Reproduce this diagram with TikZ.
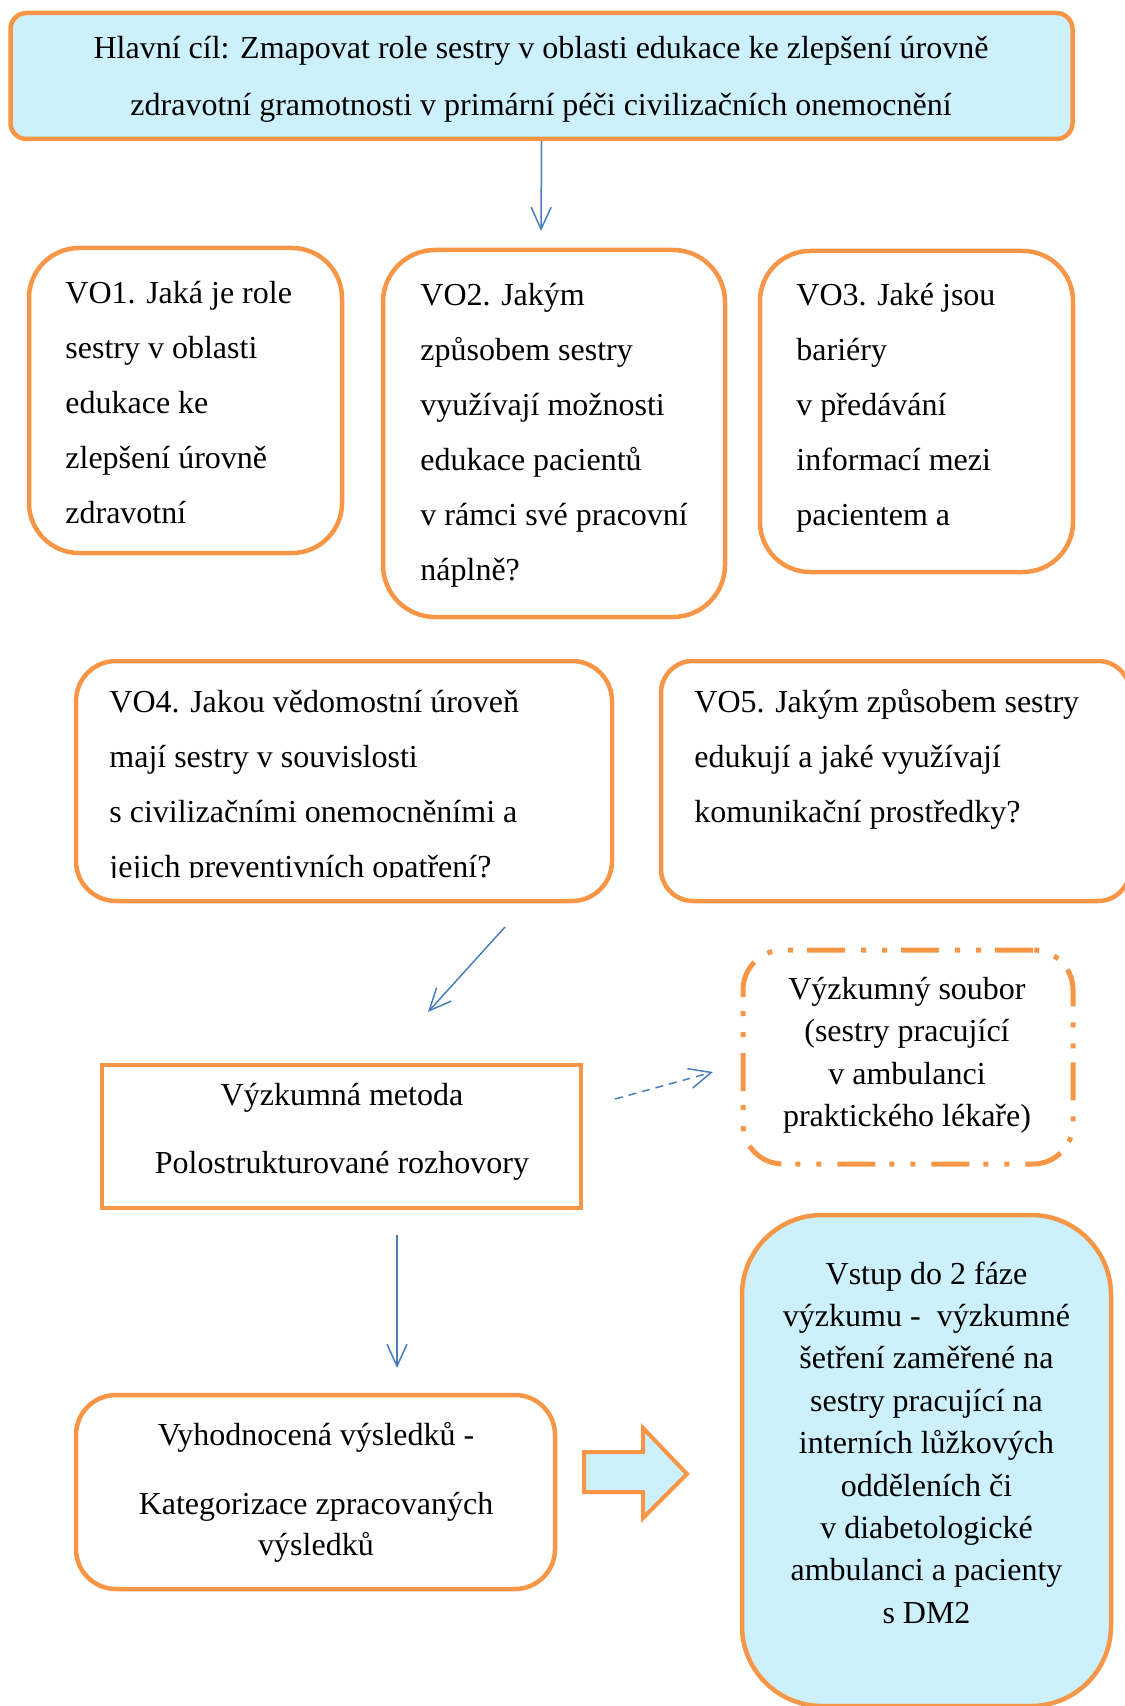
\documentclass[tikz,border=0pt]{standalone}
\usepackage{fontspec}
\setmainfont{Liberation Serif}
\usetikzlibrary{arrows.meta}
\definecolor{orng}{HTML}{F79646}
\definecolor{lblue}{HTML}{CCF0FC}
\definecolor{arrblue}{HTML}{4A7EBB}
\begin{document}
\begin{tikzpicture}[x=0.5pt,y=-0.5pt,
 box/.style={draw=orng, line width=2.25pt, rectangle, inner sep=0pt},
 rbox/.style={box, rounded corners=#1},
 txt/.style={inner sep=0pt, font=\fontsize{16}{27.5}\selectfont},
 stxt/.style={inner sep=0pt, font=\fontsize{16}{21.2}\selectfont},
 conn/.style={draw=arrblue, line width=0.75pt, -{Straight Barb[length=11pt,width=10pt]}},
 dconn/.style={conn, dash pattern=on 4pt off 3pt},
 dashdotbox/.style={box, line width=2.5pt, rounded corners=20pt, dash pattern=on 19pt off 7pt on 2.5pt off 8pt on 2.5pt off 8pt},
]
\useasboundingbox (0,0) rectangle (1124,1706);

% main goal
\node[rbox=8pt, fill=lblue, minimum width=531pt, minimum height=63pt] (goal) at (541.5,76) {};
\node[txt, anchor=north, align=center, font=\fontsize{16}{28.5}\selectfont] (goalt) at (541,18)
 {\strut Hlavní cíl: Zmapovat role sestry v oblasti edukace ke zlepšení úrovně\\zdravotní gramotnosti v primární péči civilizačních onemocnění};

% VO1
\node[rbox=25pt, minimum width=156.5pt, minimum height=152.5pt] (vo1) at (185.5,400.5) {};
\node[txt, anchor=north west, align=left] (vo1t) at (65,264.5)
 {\strut VO1. Jaká je role\\sestry v oblasti\\edukace ke\\zlepšení úrovně\\zdravotní};

% VO2
\node[rbox=26pt, minimum width=171pt, minimum height=183.5pt] (vo2) at (554,433.5) {};
\node[txt, anchor=north west, align=left] (vo2t) at (420,266.5)
 {\strut VO2. Jakým\\způsobem sestry\\využívají možnosti\\edukace pacientů\\v rámci své pracovní\\náplně?};

% VO3
\node[rbox=25pt, minimum width=156.5pt, minimum height=160.5pt] (vo3) at (916.5,411.5) {};
\node[txt, anchor=north west, align=left] (vo3t) at (796,266.5)
 {\strut VO3. Jaké jsou\\bariéry\\v předávání\\informací mezi\\pacientem a};

% VO4
\node[rbox=20pt, minimum width=268pt, minimum height=120pt] (vo4) at (344,781) {};
\begin{scope}
\clip (90,662) rectangle (600,877);
\node[txt, anchor=north west, align=left] (vo4t) at (109,673.5)
 {\strut VO4. Jakou vědomostní úroveň\\mají sestry v souvislosti\\s civilizačními onemocněními a\\jejich preventivních opatření?};
\end{scope}

% VO5
\node[rbox=16pt, minimum width=234.5pt, minimum height=120pt] (vo5) at (895.5,781) {};
\node[txt, anchor=north west, align=left] (vo5t) at (694,673.5)
 {\strut VO5. Jakým způsobem sestry\\edukují a jaké využívají\\komunikační prostředky?};

% method
\node[box, minimum width=239.5pt, minimum height=71.5pt] (met) at (341.5,1136.5) {};
\node[txt, anchor=north, align=center, font=\fontsize{16}{34}\selectfont] (mett) at (342,1057.4)
 {\strut Výzkumná metoda\\Polostrukturované rozhovory};

% sample
\node[dashdotbox, minimum width=165pt, minimum height=107pt] (sam) at (908,1057) {};
\node[stxt, anchor=north, align=center] (samt) at (907,969.3)
 {\strut Výzkumný soubor\\(sestry pracující\\v ambulanci\\praktického lékaře)};

% evaluation
\node[rbox=20pt, minimum width=239.5pt, minimum height=97pt] (eva) at (315.5,1492) {};
\node[inner sep=0pt, font=\fontsize{16}{20.5}\selectfont, anchor=north, align=center] (evat) at (316,1416.3)
 {\strut Vyhodnocená výsledků -\\[14pt]Kategorizace zpracovaných\\výsledků};

% phase 2
\node[rbox=40pt, fill=lblue, minimum width=184.5pt, minimum height=245.5pt] (ph2) at (926.5,1460.5) {};
\node[stxt, anchor=north, align=center] (ph2t) at (926.5,1254)
 {\strut Vstup do 2 fáze\\výzkumu -~ výzkumné\\šetření zaměřené na\\sestry pracující na\\interních lůžkových\\odděleních či\\v diabetologické\\ambulanci a pacienty\\s DM2};

% block arrow
\draw[draw=orng, line width=2pt, fill=lblue] (584,1452) -- (643,1452) -- (643,1428) -- (687,1474) -- (643,1518) -- (643,1492) -- (584,1492) -- cycle;

% connectors
\coordinate (a1e) at (541,231);
\draw[conn] (goal.south) -- (a1e);
\coordinate (a2s) at (505,927);
\coordinate (a2e) at (428,1012);
\draw[conn] (a2s) -- (a2e);
\coordinate (a3s) at (615,1099);
\coordinate (a3e) at (713,1072);
\draw[dconn] (a3s) -- (a3e);
\coordinate (a4s) at (397,1235);
\coordinate (a4e) at (397,1368);
\draw[conn] (a4s) -- (a4e);
\end{tikzpicture}
\end{document}
